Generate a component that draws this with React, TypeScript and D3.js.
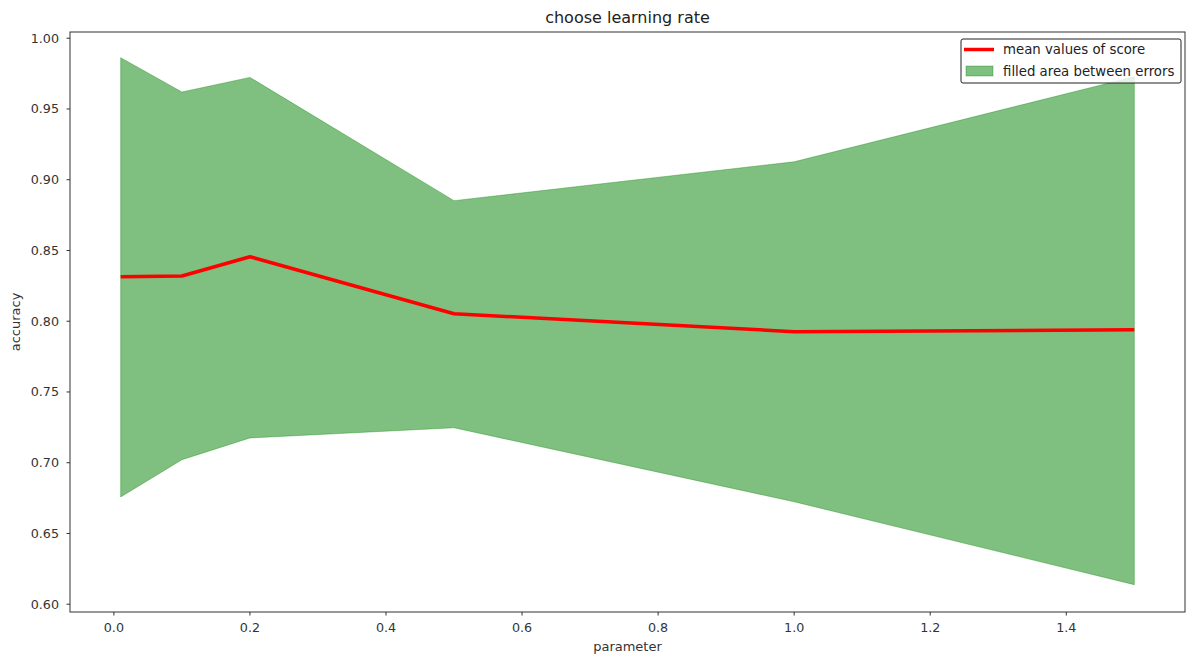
import * as d3 from "d3";
import React from "react";

// values
const params = [0.01, 0.1, 0.2, 0.5, 1.0, 1.5];
const meanScores = [0.8315, 0.832, 0.8456, 0.8053, 0.7926, 0.794];
const upperErrors = [0.9862, 0.962, 0.9723, 0.8852, 0.9127, 0.9728];
const lowerErrors = [0.6758, 0.7021, 0.7175, 0.7247, 0.6724, 0.6138];
const xTicks = [0.0, 0.2, 0.4, 0.6, 0.8, 1.0, 1.2, 1.4];
const yTicks = [0.6, 0.65, 0.7, 0.75, 0.8, 0.85, 0.9, 0.95, 1.0];

const W = 1187, H = 654;
const margin = { left: 70, right: 2, top: 32, bottom: 42 };
const font = "'DejaVu Sans', sans-serif";

export default function App() {
  const width = W - margin.left - margin.right;
  const height = H - margin.top - margin.bottom;

  const x = d3.scaleLinear().domain([-0.0645, 1.5745]).range([0, width]);
  const y = d3.scaleLinear().domain([0.5945, 1.0044]).range([height, 0]);

  const rows = params.map((p, i) => ({
    p, mean: meanScores[i], hi: upperErrors[i], lo: lowerErrors[i]
  }));

  const area = d3.area<any>()
    .x(d => x(d.p))
    .y0(d => y(d.lo))
    .y1(d => y(d.hi));
  const line = d3.line<any>()
    .x(d => x(d.p))
    .y(d => y(d.mean));

  const axisColor = "#333";
  const tickFont = 12.7;
  const labelFont = 13;
  const legendFont = 13.3;

  return (
    <svg width={W} height={H} style={{ position: "absolute", left: 0, top: 0, background: "#fff" }}
      fontFamily={font}>
      <text x={margin.left + width / 2} y={23} textAnchor="middle" fontSize={16} fill="#222">
        choose learning rate
      </text>
      <g transform={`translate(${margin.left},${margin.top})`}>
        {/* filled area between errors */}
        <path d={area(rows) || ""} fill="#008000" fillOpacity={0.5}
          stroke="#008000" strokeOpacity={0.35} strokeWidth={1} />
        {/* mean line */}
        <path d={line(rows) || ""} fill="none" stroke="#ff0000" strokeWidth={3.5}
          strokeLinejoin="round" />

        {/* spines */}
        <rect x={0} y={0} width={width} height={height} fill="none" stroke={axisColor} strokeWidth={1} />

        {/* x axis */}
        {xTicks.map(t => (
          <g key={"x" + t} transform={`translate(${x(t)},${height})`}>
            <line y1={0} y2={3.5} stroke={axisColor} />
            <text y={20} textAnchor="middle" fontSize={tickFont} fill={axisColor}>{t.toFixed(1)}</text>
          </g>
        ))}
        <text x={width / 2} y={height + 39} textAnchor="middle" fontSize={labelFont} fill={axisColor}>
          parameter
        </text>

        {/* y axis */}
        {yTicks.map(t => (
          <g key={"y" + t} transform={`translate(0,${y(t)})`}>
            <line x1={0} x2={-3.5} stroke={axisColor} />
            <text x={-11} dy="0.35em" textAnchor="end" fontSize={tickFont} fill={axisColor}>{t.toFixed(2)}</text>
          </g>
        ))}
        <text transform={`translate(${-50},${height / 2}) rotate(-90)`} textAnchor="middle"
          fontSize={labelFont} fill={axisColor}>
          accuracy
        </text>
      </g>

      {/* legend */}
      <g transform="translate(961,39)">
        <rect x={0} y={0} width={220} height={44} rx={2} fill="#fff" fillOpacity={0.8}
          stroke="#222" strokeWidth={1} />
        <line x1={3} x2={33} y1={10.5} y2={10.5} stroke="#ff0000" strokeWidth={3.5} />
        <text x={42} y={15} fontSize={legendFont} fill="#222">mean values of score</text>
        <rect x={5} y={27} width={27} height={10} fill="#008000" fillOpacity={0.5}
          stroke="#008000" strokeOpacity={0.35} />
        <text x={42} y={37} fontSize={legendFont} fill="#222">filled area between errors</text>
      </g>
    </svg>
  );
}
